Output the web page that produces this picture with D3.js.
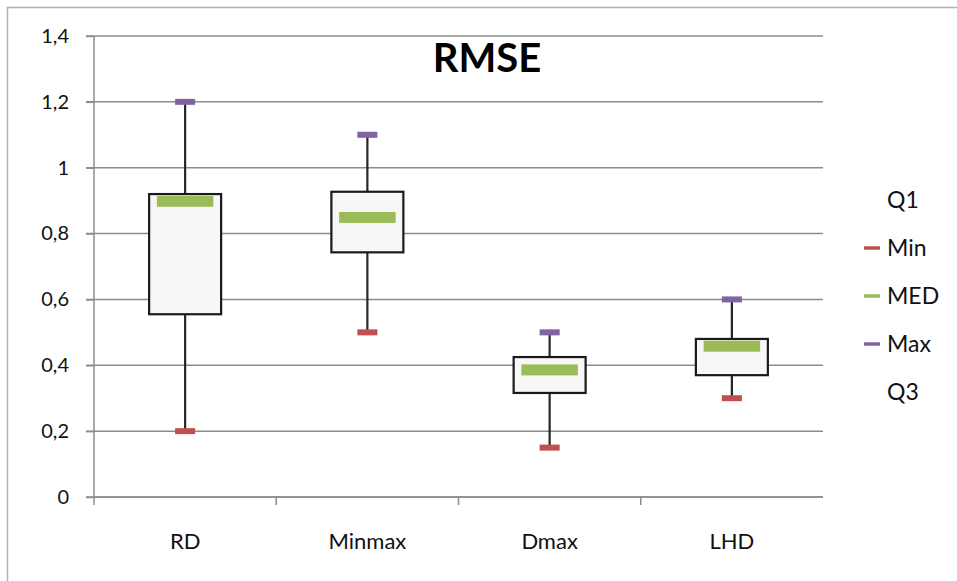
<!DOCTYPE html>
<html>
<head>
<meta charset="utf-8">
<script src="https://cdn.jsdelivr.net/npm/d3@7/dist/d3.min.js"></script>
<style>
  html, body { margin: 0; padding: 0; background: #fff; }
  svg { display: block; font-family: Lato, "Open Sans", sans-serif; }
</style>
</head>
<body>
<svg id="chart" width="957" height="581"></svg>
<script>
// Box-plot summary of RMSE per sampling method
const categories = ["RD", "Minmax", "Dmax", "LHD"];
const minVals = [0.20, 0.50, 0.15, 0.30];
const q1Vals  = [0.555, 0.743, 0.316, 0.37];
const medVals = [0.898, 0.849, 0.386, 0.458];
const q3Vals  = [0.92, 0.927, 0.425, 0.48];
const maxVals = [1.20, 1.10, 0.50, 0.60];
const yTicks  = [0, 0.2, 0.4, 0.6, 0.8, 1, 1.2, 1.4];
const legendItems = [
  { label: "Q1", color: null },
  { label: "Min", color: "#C0504D" },
  { label: "MED", color: "#9BBB59" },
  { label: "Max", color: "#8064A2" },
  { label: "Q3", color: null }
];

const svg = d3.select("#chart");
const W = 957, H = 581;
const plot = { left: 94, right: 823, top: 36, bottom: 497 };
const textColor = "#111";

// outer chart frame
svg.append("path")
  .attr("d", `M7.5,${H + 2} V7.5 H${W + 2}`)
  .attr("fill", "none").attr("stroke", "#b0b0b0").attr("stroke-width", 1.5);

const x = d3.scaleBand().domain(categories).range([plot.left, plot.right]).padding(0);
const y = d3.scaleLinear().domain([0, 1.4]).range([plot.bottom, plot.top]);
const fmt = d => String(d).replace(".", ",");

// horizontal gridlines
svg.append("g")
  .selectAll("line").data(yTicks).join("line")
  .attr("x1", plot.left - 8).attr("x2", plot.right)
  .attr("y1", d => y(d)).attr("y2", d => y(d))
  .attr("stroke", "#8c8c8c").attr("stroke-width", 1.5);

// y axis
const yAxis = svg.append("g").attr("transform", `translate(${plot.left},0)`)
  .call(d3.axisLeft(y).tickValues(yTicks).tickFormat(fmt).tickSize(8).tickPadding(17));
yAxis.select(".domain").attr("stroke", "#8c8c8c").attr("stroke-width", 1.5)
  .attr("d", `M0,${plot.top}V${plot.bottom + 8}`);
yAxis.selectAll(".tick line").attr("stroke", "#8c8c8c").attr("stroke-width", 1.5);
yAxis.selectAll(".tick text").attr("font-size", 20).attr("fill", textColor)
  .attr("font-family", "Lato, sans-serif");

// x axis
const xAxis = svg.append("g").attr("transform", `translate(0,${plot.bottom})`)
  .call(d3.axisBottom(x).tickSize(0).tickPadding(36));
xAxis.select(".domain").attr("stroke", "#8c8c8c").attr("stroke-width", 1.5)
  .attr("d", `M${plot.left},0H${plot.right}`);
xAxis.selectAll(".tick text").attr("font-size", 22).attr("fill", textColor)
  .attr("font-family", "Lato, sans-serif");
// category separators
xAxis.append("g").selectAll("line").data(categories.slice(1)).join("line")
  .attr("x1", d => x(d)).attr("x2", d => x(d))
  .attr("y1", 0).attr("y2", 8)
  .attr("stroke", "#8c8c8c").attr("stroke-width", 1.5);

const bw = x.bandwidth();
const cx = i => x(categories[i]) + bw / 2;
const boxW = bw * 0.395;
const capW = bw * 0.11;
const medW = bw * 0.31;

const g = svg.append("g");
categories.forEach((c, i) => {
  const xc = cx(i);
  // whisker
  g.append("line")
    .attr("x1", xc).attr("x2", xc)
    .attr("y1", y(maxVals[i])).attr("y2", y(minVals[i]))
    .attr("stroke", "#262626").attr("stroke-width", 2.2);
  // box Q1..Q3
  g.append("rect")
    .attr("x", xc - boxW / 2).attr("width", boxW)
    .attr("y", y(q3Vals[i])).attr("height", y(q1Vals[i]) - y(q3Vals[i]))
    .attr("fill", "#f7f7f7").attr("stroke", "#1a1a1a").attr("stroke-width", 2.2);
  // median marker
  g.append("rect")
    .attr("x", xc - medW / 2).attr("width", medW)
    .attr("y", y(medVals[i]) - 5.5).attr("height", 11)
    .attr("fill", "#9BBB59");
  // min / max markers
  g.append("rect")
    .attr("x", xc - capW / 2).attr("width", capW)
    .attr("y", y(minVals[i]) - 3).attr("height", 6)
    .attr("fill", "#C0504D");
  g.append("rect")
    .attr("x", xc - capW / 2).attr("width", capW)
    .attr("y", y(maxVals[i]) - 3).attr("height", 6)
    .attr("fill", "#8064A2");
});

// title
svg.append("text")
  .attr("x", 487).attr("y", 72)
  .attr("text-anchor", "middle")
  .attr("font-family", "Lato, sans-serif")
  .attr("font-weight", "bold").attr("font-size", 40)
  .attr("fill", "#000")
  .text("RMSE");

// legend
const lg = svg.append("g").attr("transform", "translate(864,0)");
legendItems.forEach((d, i) => {
  const ly = 200 + i * 48;
  if (d.color) {
    lg.append("line").attr("x1", 0).attr("x2", 16)
      .attr("y1", ly).attr("y2", ly)
      .attr("stroke", d.color).attr("stroke-width", 3.5);
  }
  lg.append("text")
    .attr("x", 23).attr("y", ly).attr("dy", "0.35em")
    .attr("font-size", 23).attr("fill", textColor)
    .attr("font-family", "Lato, sans-serif")
    .text(d.label);
});
</script>
</body>
</html>
